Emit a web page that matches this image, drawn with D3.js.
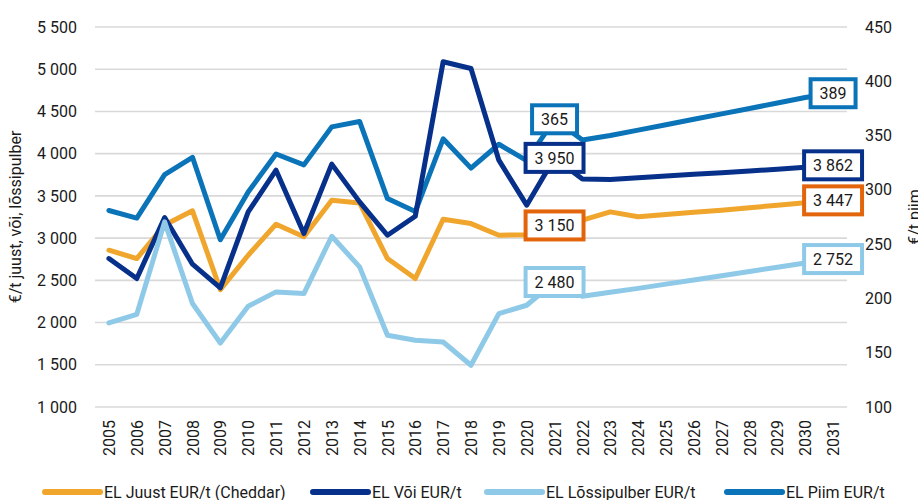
<!DOCTYPE html>
<html>
<head>
<meta charset="utf-8">
<script src="https://cdn.jsdelivr.net/npm/d3@7"></script>
<style>
body { margin: 0; background: #fff; }
text { font-family: Roboto, "Noto Sans", sans-serif; fill: #1a1a1a; }
</style>
</head>
<body>
<svg width="918" height="500"></svg>
<script>
var years = ["2005","2006","2007","2008","2009","2010","2011","2012","2013","2014","2015","2016","2017","2018",
	"2019","2020","2021","2022","2023","2024","2025","2026","2027","2028","2029","2030","2031"];
var juust = [2857, 2758, 3155, 3323, 2390, 2797, 3165, 3015, 3449, 3417, 2758, 2521, 3224, 3172,
	3034, 3040, 3150, 3212, 3311, 3252, 3280, 3305, 3330, 3360, 3390, 3418, 3447];
var voi = [2758, 2521, 3244, 2691, 2410, 3311, 3805, 3054, 3876, 3429, 3034, 3259, 5088, 5009,
	3923, 3390, 3950, 3700, 3695, 3715, 3735, 3755, 3775, 3795, 3815, 3840, 3862];
var lossipulber = [1995, 2098, 3192, 2225, 1758, 2193, 2363, 2343, 3022, 2659, 1849, 1790, 1770, 1494,
	2106, 2205, 2480, 2311, 2360, 2405, 2455, 2505, 2555, 2605, 2655, 2705, 2752];
var piim = [281, 274, 314, 330, 254, 298, 333, 323, 358, 363, 292, 280, 347, 320,
	342, 327, 365, 346, 350, 355, 360, 365, 370, 375, 380, 385, 389];
var leftTicks = [1000, 1500, 2000, 2500, 3000, 3500, 4000, 4500, 5000, 5500];
var rightTicks = [100, 150, 200, 250, 300, 350, 400, 450];
var labelIdx = [16, 26];

var svg = d3.select("svg");
var fmt = d3.formatLocale({decimal: ",", thousands: " ", grouping: [3], currency: ["", ""]}).format(",d");

var x = d3.scalePoint().domain(years).range([95, 847]).padding(0.5);
var yL = d3.scaleLinear().domain([1000, 5500]).range([407, 27]);
var yR = d3.scaleLinear().domain([100, 450]).range([407, 27]);

// grid
svg.append("g").selectAll("line").data(leftTicks).enter().append("line")
	.attr("x1", 95).attr("x2", 847)
	.attr("y1", function(d) { return yL(d); }).attr("y2", function(d) { return yL(d); })
	.attr("stroke", "#d9d9d9").attr("stroke-width", 1.6);

// axes
var axL = svg.append("g").attr("transform", "translate(95,0)")
	.call(d3.axisLeft(yL).tickValues(leftTicks).tickFormat(fmt).tickSize(0).tickPadding(18));
var axR = svg.append("g").attr("transform", "translate(847,0)")
	.call(d3.axisRight(yR).tickValues(rightTicks).tickSize(0).tickPadding(18));
var axX = svg.append("g").attr("transform", "translate(0,407)")
	.call(d3.axisBottom(x).tickSize(0));
[axL, axR, axX].forEach(function(a) {
	a.select(".domain").remove();
	a.selectAll("text").style("font-size", "16px").attr("fill", "#1a1a1a");
});
axX.selectAll("text")
	.attr("transform", "rotate(-90)")
	.attr("text-anchor", "end")
	.attr("x", -13).attr("y", 0).attr("dy", "0.35em");

svg.append("text").attr("transform", "translate(21,217) rotate(-90)")
	.attr("text-anchor", "middle").style("font-size", "16px").text("€/t juust, või, lõssipulber");
svg.append("text").attr("transform", "translate(920,217) rotate(-90)")
	.attr("text-anchor", "middle").style("font-size", "16px").text("€/t piim");

var series = [
	{name: "EL Piim EUR/t", values: piim, y: yR, color: "#0b74b8", box: "#0b74b8", fmt: d3.format("d")},
	{name: "EL Juust EUR/t (Cheddar)", values: juust, y: yL, color: "#f0a52d", box: "#e2650b", fmt: fmt},
	{name: "EL Või EUR/t", values: voi, y: yL, color: "#06308a", box: "#06308a", fmt: fmt},
	{name: "EL Lõssipulber EUR/t", values: lossipulber, y: yL, color: "#8fc9e8", box: "#8fc9e8", fmt: fmt}
];

series.forEach(function(s) {
	var line = d3.line()
		.x(function(d, i) { return x(years[i]); })
		.y(function(d) { return s.y(d); });
	svg.append("path").datum(s.values)
		.attr("d", line)
		.attr("fill", "none")
		.attr("stroke", s.color)
		.attr("stroke-width", 5)
		.attr("stroke-linejoin", "round")
		.attr("stroke-linecap", "round");
});

// data labels
series.forEach(function(s) {
	labelIdx.forEach(function(i) {
		var g = svg.append("g").attr("transform", "translate(" + x(years[i]) + "," + s.y(s.values[i]) + ")");
		var t = g.append("text").attr("text-anchor", "middle").attr("dy", "0.36em")
			.style("font-size", "16px").text(s.fmt(s.values[i]));
		var w = t.node().getComputedTextLength() + 18;
		g.insert("rect", "text")
			.attr("x", -w / 2).attr("y", -14).attr("width", w).attr("height", 28)
			.attr("fill", "#fff").attr("stroke", s.box).attr("stroke-width", 4);
	});
});

// legend
var legend = [
	{s: series[1], x: 45},
	{s: series[2], x: 313},
	{s: series[3], x: 487},
	{s: series[0], x: 727}
];
var lg = svg.append("g").selectAll("g").data(legend).enter().append("g")
	.attr("transform", function(d) { return "translate(" + d.x + ",492)"; });
lg.append("line").attr("x1", 0).attr("x2", 55)
	.attr("stroke", function(d) { return d.s.color; })
	.attr("stroke-width", 6).attr("stroke-linecap", "round");
lg.append("text").attr("x", 59).attr("dy", "0.36em").style("font-size", "16px")
	.text(function(d) { return d.s.name; });
</script>
</body>
</html>
